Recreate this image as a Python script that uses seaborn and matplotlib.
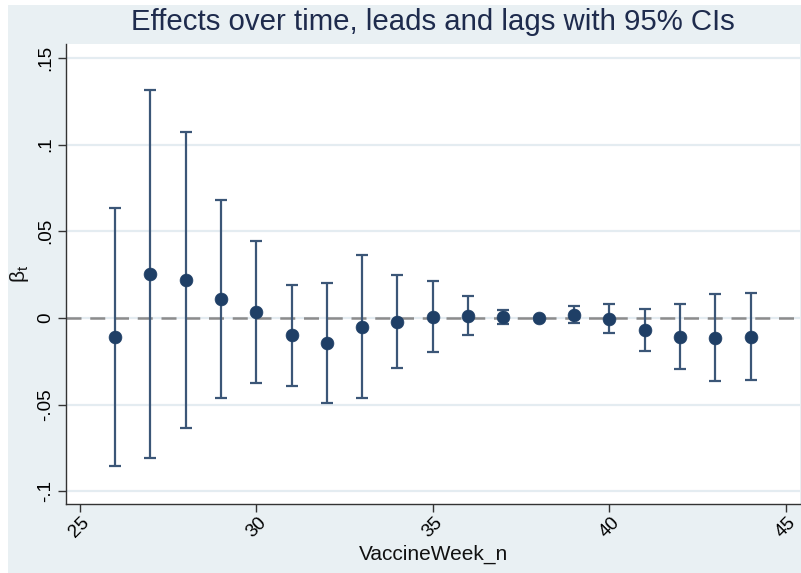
import matplotlib
matplotlib.use("Agg")
import matplotlib.pyplot as plt
import seaborn as sns
import numpy as np
import pandas as pd
from matplotlib.patches import Rectangle

# ---- data ----
weeks = [26, 27, 28, 29, 30, 31, 32, 33, 34, 35, 36, 37, 38, 39, 40, 41, 42, 43, 44]
beta = [-0.0108, 0.0254, 0.0219, 0.0107, 0.0035, -0.0100, -0.0144, -0.0050, -0.0021,
        0.0008, 0.0012, 0.0004, 0.0000, 0.0019, -0.0004, -0.0069, -0.0110, -0.0115, -0.0108]
ci_low = [-0.0852, -0.0810, -0.0635, -0.0462, -0.0375, -0.0392, -0.0490, -0.0463, -0.0290,
          -0.0198, -0.0098, -0.0033, 0.0000, -0.0027, -0.0088, -0.0190, -0.0296, -0.0365, -0.0360]
ci_high = [0.0635, 0.1317, 0.1071, 0.0681, 0.0442, 0.0192, 0.0202, 0.0365, 0.0248,
           0.0215, 0.0125, 0.0048, 0.0000, 0.0067, 0.0082, 0.0050, 0.0081, 0.0137, 0.0146]
xticks = [25, 30, 35, 40, 45]
yticks = [-0.1, -0.05, 0, 0.05, 0.1, 0.15]
ytick_labels = ["-.1", "-.05", "0", ".05", ".1", ".15"]
title = "Effects over time, leads and lags with 95% CIs"
xlabel = "VaccineWeek_n"

df = pd.DataFrame({"week": weeks, "beta": beta, "lo": ci_low, "hi": ci_high})

sns.set_theme(style="white")
plt.rcParams["font.family"] = ["Liberation Sans", "DejaVu Sans"]
plt.rcParams["mathtext.fontset"] = "custom"
plt.rcParams["mathtext.rm"] = "Liberation Sans"

BG = "#E9F0F3"
NAVY = "#1F3F66"
BAR = "#3B5677"

fig = plt.figure(figsize=(8.01, 5.73), dpi=100)
fig.patch.set_facecolor("white")
fig.patches.append(Rectangle((8 / 801, 0), 1, 1 - 5 / 573, transform=fig.transFigure,
                             facecolor=BG, edgecolor="none", zorder=-10))

ax = fig.add_axes([66.3 / 801, 1 - 504 / 573, (800 - 66.3) / 801, (504 - 44) / 573])
ax.set_facecolor("white")

# grid lines
for yv in yticks:
    ax.axhline(yv, color="#E4ECF1", lw=1.6, zorder=0)

# zero reference line
ax.axhline(0, color="#8C8C8C", lw=1.8, ls=(0, (6, 3.5)), zorder=1)

# confidence intervals
ax.errorbar(df["week"], df["beta"],
            yerr=[df["beta"] - df["lo"], df["hi"] - df["beta"]],
            fmt="none", ecolor=BAR, elinewidth=1.6, capsize=4.2, capthick=1.6, zorder=2)

# point estimates
sns.scatterplot(data=df, x="week", y="beta", ax=ax, color=NAVY, s=85,
                edgecolor=NAVY, linewidth=0.5, zorder=3, legend=False)

ax.set_xlim(24.62, 45.40)
ax.set_ylim(-0.1073, 0.158)
ax.set_xticks(xticks)
ax.set_xticklabels([str(t) for t in xticks], rotation=45, fontsize=13.5)
ax.set_yticks(yticks)
ax.set_yticklabels(ytick_labels, rotation=90, va="center", fontsize=13.5)

for s in ["top", "right"]:
    ax.spines[s].set_visible(False)
for s in ["left", "bottom"]:
    ax.spines[s].set_color("#333333")
    ax.spines[s].set_linewidth(1.0)

ax.tick_params(axis="both", direction="out", length=6, width=1.0, color="#333333",
               labelcolor="black", left=True, bottom=True)
ax.tick_params(axis="x", pad=1)
ax.tick_params(axis="y", pad=3)

ax.set_xlabel(xlabel, fontsize=15, color="#111111", labelpad=3)
ax.set_ylabel(r"$\mathregular{β_t}$", fontsize=15, color="#111111", labelpad=4)

fig.text((66.3 + 800) / 2 / 801, 1 - 22 / 573, title, ha="center", va="center",
         fontsize=21.2, color="#1E2B4D")

fig.savefig("out.png", dpi=100, facecolor=fig.get_facecolor())
